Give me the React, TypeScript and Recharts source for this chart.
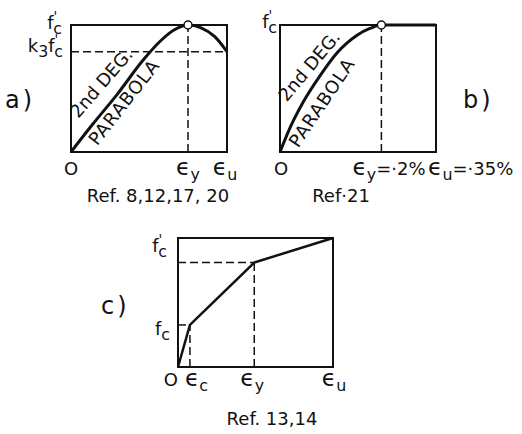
import React from "react";
import {
  LineChart,
  Line,
  XAxis,
  YAxis,
  ReferenceArea,
  ReferenceLine,
  ReferenceDot,
} from "recharts";

const FONT = "'DejaVu Sans', sans-serif";
const INK = "#111";

// a) 2nd degree parabola up to f'c at ey, falling to k3 f'c at eu (normalised axes)
const strainA = [0, 0.14, 0.3, 0.46, 0.57, 0.66, 0.75, 0.83, 0.92, 1];
const stressA = [0, 0.22, 0.46, 0.72, 0.87, 0.96, 1, 0.98, 0.91, 0.79];
const yieldA = 0.75;
const k3A = 0.79;
const xTicksA = [0, yieldA, 1];
const xLabelsA = ["O", "ϵ_y", "ϵ_u"];
const yTicksA = [k3A, 1];
const yLabelsA = ["k_3f'_c", "f'_c"];

// b) parabola up to f'c at ey = .2%, then flat to eu = .35%
const strainB = [0, 0.064, 0.147, 0.256, 0.365, 0.494, 0.58, 0.65, 1];
const stressB = [0, 0.19, 0.39, 0.6, 0.78, 0.92, 0.975, 1, 1];
const yieldB = 0.65;
const xTicksB = [0, yieldB, 1];
const xLabelsB = ["O", "ϵ_y=·2%", "ϵ_u=·35%"];
const yTicksB = [1];
const yLabelsB = ["f'_c"];

// c) trilinear: O -> (ec, fc) -> (ey, fy) -> (eu, f'c)
const strainC = [0, 0.077, 0.492, 1];
const stressC = [0, 0.326, 0.81, 1];
const xTicksC = strainC;
const xLabelsC = ["O", "ϵ_c", "ϵ_y", "ϵ_u"];
const yTicksC = [stressC[1], 1];
const yLabelsC = ["f_c", "f'_c"];

const toRows = (xs: number[], ys: number[]) => xs.map((x, i) => ({ x, y: ys[i] }));
const dataA = toRows(strainA, stressA);
const dataB = toRows(strainB, stressB);
const dataC = toRows(strainC, stressC);

const SUB = 5;
const PRIME = -8;

// "_x" = subscript x, "'" = prime; the strain epsilon is drawn a little larger
function Rich({ text, x, y, anchor, size = 18 }: { text: string; x: number; y: number; anchor: string; size?: number }) {
  const parts: React.ReactNode[] = [];
  let shift = 0;
  let primed = false;
  let run = "";
  const push = (s: string, dy: number, fs: number, dx = 0) => {
    parts.push(
      <tspan key={parts.length} dy={dy} dx={dx} fontSize={fs}>
        {s}
      </tspan>
    );
  };
  const flush = () => {
    if (!run) return;
    push(run, -shift, size);
    shift = 0;
    run = "";
  };
  for (let i = 0; i < text.length; i++) {
    const ch = text[i];
    if (ch === "_") {
      flush();
      push(text[++i], SUB - shift, size * 0.88, primed ? -4 : 0);
      shift = SUB;
      primed = false;
    } else if (ch === "'") {
      flush();
      push("'", PRIME - shift, size * 0.75);
      shift = PRIME;
      primed = true;
    } else if (ch === "ϵ") {
      flush();
      push(ch, -shift, size * 1.3);
      shift = 0;
    } else {
      run += ch;
    }
  }
  flush();
  return (
    <text x={x} y={y} textAnchor={anchor as any} fontFamily={FONT} fill={INK}>
      {parts}
    </text>
  );
}

type Place = { dx: number; dy: number; anchor: "start" | "middle" | "end" };

function makeTick(ticks: number[], labels: string[], places: Place[]) {
  return (props: any) => {
    const { x, y, payload } = props;
    const i = ticks.indexOf(payload.value);
    if (i < 0) return <g />;
    const p = places[i];
    return (
      <g>
        <Rich text={labels[i]} x={x + p.dx} y={y + p.dy} anchor={p.anchor} />
      </g>
    );
  };
}

const tickXA = makeTick(xTicksA, xLabelsA, [
  { dx: 0, dy: 23, anchor: "middle" },
  { dx: 0, dy: 23, anchor: "middle" },
  { dx: -2, dy: 23, anchor: "middle" },
]);
const tickYA = makeTick(yTicksA, yLabelsA, [
  { dx: -8, dy: 0, anchor: "end" },
  { dx: -9, dy: 4, anchor: "end" },
]);
const tickXB = makeTick(xTicksB, xLabelsB, [
  { dx: 1, dy: 23, anchor: "middle" },
  { dx: -29, dy: 23, anchor: "start" },
  { dx: -8, dy: 23, anchor: "start" },
]);
const tickYB = makeTick(yTicksB, yLabelsB, [{ dx: -3, dy: 3, anchor: "end" }]);
const tickXC = makeTick(xTicksC, xLabelsC, [
  { dx: 0, dy: 19, anchor: "end" },
  { dx: -5, dy: 19, anchor: "start" },
  { dx: -2, dy: 19, anchor: "middle" },
  { dx: 1, dy: 19, anchor: "middle" },
]);
const tickYC = makeTick(yTicksC, yLabelsC, [
  { dx: -8, dy: 10, anchor: "end" },
  { dx: -11, dy: 14, anchor: "end" },
]);

const axisCommon = {
  type: "number" as const,
  domain: [0, 1],
  interval: 0 as const,
  axisLine: false,
  tickLine: false,
  tickSize: 0,
  tickMargin: 0,
};

const dash = { stroke: INK, strokeWidth: 1.5, strokeDasharray: "8 4" };

function PanelA() {
  return (
    <LineChart width={250} height={210} data={dataA} margin={{ top: 25, right: 23, bottom: 28, left: 31 }}>
      <XAxis dataKey="x" {...axisCommon} ticks={xTicksA} height={30} tick={tickXA} />
      <YAxis {...axisCommon} ticks={yTicksA} width={40} tick={tickYA} />
      <ReferenceArea x1={0} x2={1} y1={0} y2={1} fill="none" stroke={INK} strokeWidth={2} />
      <ReferenceLine y={k3A} {...dash} />
      <ReferenceLine x={yieldA} {...dash} />
      <Line dataKey="y" type="monotone" stroke={INK} strokeWidth={3} dot={false} isAnimationActive={false} />
      <ReferenceDot x={yieldA} y={1} r={4} fill="#fff" stroke={INK} strokeWidth={1.5} />
    </LineChart>
  );
}

function PanelB() {
  return (
    <LineChart width={272} height={210} data={dataB} margin={{ top: 25, right: 86, bottom: 28, left: 0 }}>
      <XAxis dataKey="x" {...axisCommon} ticks={xTicksB} height={30} tick={tickXB} />
      <YAxis {...axisCommon} ticks={yTicksB} width={30} tick={tickYB} />
      <ReferenceArea x1={0} x2={1} y1={0} y2={1} fill="none" stroke={INK} strokeWidth={2} />
      <ReferenceLine x={yieldB} {...dash} />
      <Line dataKey="y" type="monotone" stroke={INK} strokeWidth={3} dot={false} isAnimationActive={false} />
      <ReferenceDot x={yieldB} y={1} r={4} fill="#fff" stroke={INK} strokeWidth={1.5} />
    </LineChart>
  );
}

function PanelC() {
  return (
    <LineChart width={240} height={180} data={dataC} margin={{ top: 18, right: 27, bottom: 3, left: 18 }}>
      <XAxis dataKey="x" {...axisCommon} ticks={xTicksC} height={30} tick={tickXC} />
      <YAxis {...axisCommon} ticks={yTicksC} width={40} tick={tickYC} />
      <ReferenceArea x1={0} x2={1} y1={0} y2={1} fill="none" stroke={INK} strokeWidth={2} />
      <ReferenceLine segment={[{ x: 0, y: stressC[1] }, { x: strainC[1], y: stressC[1] }]} {...dash} />
      <ReferenceLine segment={[{ x: strainC[1], y: 0 }, { x: strainC[1], y: stressC[1] }]} {...dash} />
      <ReferenceLine segment={[{ x: 0, y: stressC[2] }, { x: strainC[2], y: stressC[2] }]} {...dash} />
      <ReferenceLine segment={[{ x: strainC[2], y: 0 }, { x: strainC[2], y: stressC[2] }]} {...dash} />
      <Line dataKey="y" type="linear" stroke={INK} strokeWidth={2.5} dot={false} isAnimationActive={false} />
    </LineChart>
  );
}

export default function App() {
  const txt = { fontFamily: FONT, fill: INK } as const;
  return (
    <div style={{ position: "absolute", left: 0, top: 0, width: 522, height: 434, background: "#fff", overflow: "hidden" }}>
      <div style={{ position: "absolute", left: 0, top: 0 }}>
        <PanelA />
      </div>
      <div style={{ position: "absolute", left: 250, top: 0 }}>
        <PanelB />
      </div>
      <div style={{ position: "absolute", left: 120, top: 220 }}>
        <PanelC />
      </div>
      <svg width={522} height={434} style={{ position: "absolute", left: 0, top: 0, pointerEvents: "none" }}>
        <text x={5} y={108} fontSize={24} letterSpacing={3} {...txt}>a)</text>
        <text x={463} y={108} fontSize={24} letterSpacing={3} {...txt}>b)</text>
        <text x={101} y={314} fontSize={24} letterSpacing={3} {...txt}>c)</text>

        <text x={106} y={87} fontSize={18} textAnchor="middle" transform="rotate(-49 106 87)" {...txt}>2nd DEG.</text>
        <text x={129} y={106} fontSize={18} letterSpacing={1} textAnchor="middle" transform="rotate(-52 129 106)" {...txt}>PARABOLA</text>
        <text x={314} y={70} fontSize={18} textAnchor="middle" transform="rotate(-50 314 70)" {...txt}>2nd DEG.</text>
        <text x={327} y={106} fontSize={18} letterSpacing={1} textAnchor="middle" transform="rotate(-56 327 106)" {...txt}>PARABOLA</text>

        <text x={158} y={202} fontSize={18} textAnchor="middle" {...txt}>Ref. 8,12,17, 20</text>
        <text x={341} y={202} fontSize={18} textAnchor="middle" {...txt}>Ref·21</text>
        <text x={272} y={425} fontSize={18} textAnchor="middle" {...txt}>Ref. 13,14</text>
      </svg>
    </div>
  );
}
